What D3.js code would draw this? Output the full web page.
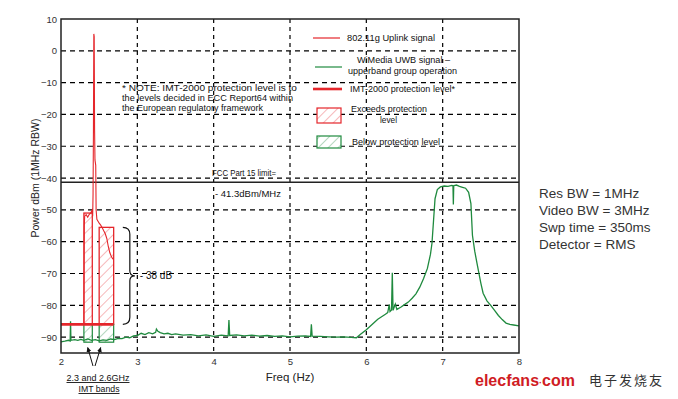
<!DOCTYPE html>
<html>
<head>
<meta charset="utf-8">
<script src="https://cdn.jsdelivr.net/npm/d3@7"></script>
<style>
body { margin: 0; background: #fff; }
text { font-family: "Liberation Sans", Arial, sans-serif; }
</style>
</head>
<body>
<script>
// ---- data ----
var freqTicks = [2, 3, 4, 5, 6, 7, 8];
var powerTicks = [10, 0, -10, -20, -30, -40, -50, -60, -70, -80, -90];

// 802.11g uplink signal
var uplinkFreq  = [2.30, 2.305, 2.31, 2.33, 2.35, 2.37, 2.39, 2.405, 2.415, 2.42, 2.425, 2.43, 2.435, 2.44, 2.445, 2.455, 2.46, 2.47, 2.50, 2.52, 2.54, 2.56, 2.58, 2.60, 2.62, 2.64, 2.66, 2.68];
var uplinkPower = [-86, -55, -52, -51.5, -52.3, -51.4, -51, -50.2, -52, -45, -25, 5.3, 4.5, -25, -34.3, -36, -50, -53, -54.2, -54.8, -55.6, -56.6, -57.5, -59, -61.6, -63.5, -64.7, -65.5];

// WiMedia UWB signal (upper band group)
var uwbFreq  = [2.00, 2.05, 2.10, 2.12, 2.125, 2.13, 2.18, 2.22, 2.26, 2.30, 2.35, 2.40, 2.45, 2.50, 2.55, 2.60, 2.65, 2.70, 2.75, 2.80, 2.85, 2.90, 2.95, 3.00, 3.05, 3.10, 3.15, 3.20, 3.24, 3.25, 3.27, 3.30, 3.35, 3.40, 3.45, 3.50, 3.60, 3.70, 3.80, 3.90, 4.00, 4.10, 4.19, 4.20, 4.21, 4.30, 4.40, 4.50, 4.60, 4.70, 4.80, 4.90, 5.00, 5.10, 5.20, 5.27, 5.28, 5.29, 5.40, 5.50, 5.60, 5.70, 5.80, 5.87, 5.92, 6.00, 6.05, 6.10, 6.15, 6.20, 6.25, 6.28, 6.30, 6.31, 6.33, 6.34, 6.35, 6.38, 6.40, 6.45, 6.50, 6.55, 6.60, 6.65, 6.70, 6.75, 6.80, 6.84, 6.86, 6.88, 6.90, 6.93, 6.97, 7.02, 7.07, 7.12, 7.135, 7.14, 7.145, 7.18, 7.22, 7.26, 7.30, 7.34, 7.37, 7.39, 7.42, 7.45, 7.50, 7.53, 7.58, 7.63, 7.68, 7.73, 7.78, 7.83, 7.88, 7.93, 8.00];
var uwbPower = [-91.5, -91.3, -91.0, -91.2, -85, -91.0, -90.8, -91.0, -90.7, -91.0, -90.6, -91.0, -90.8, -91.2, -90.9, -91.0, -90.6, -90.8, -90.4, -90.5, -90.0, -90.2, -89.6, -89.5, -88.8, -89.2, -88.6, -89.0, -88.5, -87.5, -88.2, -88.6, -89.0, -88.8, -89.2, -89.0, -89.4, -89.2, -89.6, -89.3, -89.8, -89.4, -89.6, -84.6, -89.5, -89.3, -89.6, -89.4, -89.7, -89.5, -89.8, -89.6, -89.9, -89.7, -89.6, -89.8, -86.0, -89.7, -89.8, -89.9, -90.0, -89.9, -90.1, -90.2, -89.2, -87.7, -86.6, -85.5, -84.4, -83.6, -82.8, -82.3, -79.8, -82.0, -81.5, -69.8, -81.6, -79.6, -81.3, -80.6, -79.8, -79.0, -77.8, -76.4, -74.3, -71.6, -68.4, -64.0, -60.5, -53.5, -46.5, -43.6, -42.8, -42.5, -42.6, -42.3, -42.4, -48.3, -42.4, -42.2, -42.6, -42.9, -43.2, -44.5, -48.0, -58.0, -63.0, -66.8, -73.0, -76.2, -78.6, -80.0, -81.6, -83.2, -84.5, -85.6, -86.0, -86.2, -86.5];

// IMT bands (exceeds / below protection level)
var bandStart = [2.30, 2.50];
var bandEnd   = [2.41, 2.69];
var bandTop   = [-51, -55.5];
var bandFloor = -91.6;
var protectionLevel = -86;
var protectionEnd = 2.69;
var fccLimit = -41.3;

var noteLines = ["* NOTE: IMT-2000 protection level is to", "the levels decided in ECC Report64 within", "the European regulatory framework"];
var settings = ["Res BW = 1MHz", "Video BW =  3MHz", "Swp time = 350ms", "Detector = RMS"];

// ---- layout ----
var margin = {top: 19, right: 159, bottom: 46, left: 61},
    width = 678 - margin.left - margin.right,
    height = 399 - margin.top - margin.bottom;

var red = "#e5262b", green = "#1f8a3e";

var x = d3.scaleLinear().domain([2, 8]).range([0, width]);
var y = d3.scaleLinear().domain([-95, 10]).range([height, 0]);

var root = d3.select("body").append("svg")
    .attr("width", 678)
    .attr("height", 399);

var defs = root.append("defs");
function hatch(id, color) {
  var p = defs.append("pattern")
      .attr("id", id)
      .attr("patternUnits", "userSpaceOnUse")
      .attr("width", 7).attr("height", 7)
      .attr("patternTransform", "rotate(45)");
  p.append("rect").attr("width", 7).attr("height", 7).attr("fill", "#fff");
  p.append("line").attr("x1", 0).attr("y1", 0).attr("x2", 0).attr("y2", 7)
      .attr("stroke", color).attr("stroke-width", 1.2).attr("opacity", 0.55);
}
hatch("hatchRed", red);
hatch("hatchGreen", green);

var svg = root.append("g")
    .attr("transform", "translate(" + margin.left + "," + margin.top + ")");

// grid
svg.selectAll(".vgrid")
  .data(freqTicks.slice(1, -1))
  .enter().append("line")
    .attr("x1", function(d) { return x(d); }).attr("x2", function(d) { return x(d); })
    .attr("y1", 0).attr("y2", height)
    .attr("stroke", "#000").attr("stroke-width", 1.2).attr("stroke-dasharray", "4,4");

svg.selectAll(".hgrid")
  .data(powerTicks.slice(1))
  .enter().append("line")
    .attr("x1", 0).attr("x2", width)
    .attr("y1", function(d) { return y(d); }).attr("y2", function(d) { return y(d); })
    .attr("stroke", "#000").attr("stroke-width", 1.2).attr("stroke-dasharray", "5,4");

// axes
var xAxis = d3.axisBottom(x).tickValues(freqTicks).tickFormat(d3.format("d")).tickSize(0).tickPadding(5);
var yAxis = d3.axisLeft(y).tickValues(powerTicks).tickSize(0).tickPadding(4);

svg.append("g")
    .attr("transform", "translate(0," + height + ")")
    .call(xAxis)
    .call(function(g) { g.select(".domain").remove(); })
    .selectAll("text").style("font-size", "9.5px").attr("fill", "#333")
    .style("font-family", "'Liberation Sans', Arial, sans-serif");

svg.append("g")
    .call(yAxis)
    .call(function(g) { g.select(".domain").remove(); })
    .selectAll("text").style("font-size", "9.5px").attr("fill", "#333")
    .style("font-family", "'Liberation Sans', Arial, sans-serif");

// bands above protection level
svg.selectAll(".exceed")
  .data(bandStart)
  .enter().append("rect")
    .attr("x", function(d) { return x(d); })
    .attr("width", function(d, i) { return x(bandEnd[i]) - x(d); })
    .attr("y", function(d, i) { return y(bandTop[i]); })
    .attr("height", function(d, i) { return y(protectionLevel) - y(bandTop[i]); })
    .attr("fill", "url(#hatchRed)")
    .attr("stroke", red).attr("stroke-width", 1.3);

// bands below protection level
svg.selectAll(".below")
  .data(bandStart)
  .enter().append("rect")
    .attr("x", function(d) { return x(d); })
    .attr("width", function(d, i) { return x(bandEnd[i]) - x(d); })
    .attr("y", y(protectionLevel))
    .attr("height", y(bandFloor) - y(protectionLevel))
    .attr("fill", "url(#hatchGreen)")
    .attr("stroke", green).attr("stroke-width", 1.2);

// FCC limit line
svg.append("line")
    .attr("x1", 0).attr("x2", width)
    .attr("y1", y(fccLimit)).attr("y2", y(fccLimit))
    .attr("stroke", "#222").attr("stroke-width", 1.6);

var line = d3.line()
    .x(function(d) { return x(d[0]); })
    .y(function(d) { return y(d[1]); });

// UWB signal
svg.append("path")
    .datum(d3.zip(uwbFreq, uwbPower))
    .attr("d", line)
    .attr("fill", "none").attr("stroke", green).attr("stroke-width", 1.3);

// uplink signal
svg.append("path")
    .datum(d3.zip(uplinkFreq, uplinkPower))
    .attr("d", line)
    .attr("fill", "none").attr("stroke", red).attr("stroke-width", 1.1);

// protection level
svg.append("line")
    .attr("x1", x(2)).attr("x2", x(protectionEnd))
    .attr("y1", y(protectionLevel)).attr("y2", y(protectionLevel))
    .attr("stroke", red).attr("stroke-width", 2.6);

// plot frame
svg.append("rect")
    .attr("width", width).attr("height", height)
    .attr("fill", "none").attr("stroke", "#222").attr("stroke-width", 1.5);

// brace showing the margin
var bx = x(2.81), by0 = y(bandTop[1]), by1 = y(protectionLevel), bym = (by0 + by1) / 2;
svg.append("path")
    .attr("d", "M" + bx + "," + by0 + " q7,0 7,7 L" + (bx + 7) + "," + (bym - 5) +
               " q0,5 5,5 q-5,0 -5,5 L" + (bx + 7) + "," + (by1 - 7) + " q0,7 -7,7")
    .attr("fill", "none").attr("stroke", "#111").attr("stroke-width", 1.2);
svg.append("text")
    .attr("x", bx + 17).attr("y", bym + 3.5)
    .style("font-size", "10px").attr("fill", "#111")
    .text("- 38 dB");

// FCC limit labels
svg.append("text")
    .attr("x", 151).attr("y", 157)
    .attr("textLength", 64).attr("lengthAdjust", "spacingAndGlyphs")
    .style("font-size", "9px").attr("fill", "#111")
    .text("FCC Part 15 limit=");
svg.append("text")
    .attr("x", 154).attr("y", 178)
    .attr("textLength", 66).attr("lengthAdjust", "spacingAndGlyphs")
    .style("font-size", "9px").attr("fill", "#111")
    .text("- 41.3dBm/MHz");

// note
var noteWidths = [175, 171, 141];
svg.selectAll(".note")
  .data(noteLines)
  .enter().append("text")
    .attr("x", 61).attr("y", function(d, i) { return 72 + i * 10; })
    .attr("textLength", function(d, i) { return noteWidths[i]; })
    .attr("lengthAdjust", "spacingAndGlyphs")
    .style("font-size", "9px").attr("fill", "#111")
    .text(function(d) { return d; });

// legend
var lg = root.append("g");
lg.append("line").attr("x1", 313).attr("x2", 340).attr("y1", 38).attr("y2", 38)
    .attr("stroke", red).attr("stroke-width", 1.2);
lg.append("line").attr("x1", 315).attr("x2", 342).attr("y1", 67).attr("y2", 67)
    .attr("stroke", green).attr("stroke-width", 1.2);
lg.append("line").attr("x1", 313).attr("x2", 342).attr("y1", 89).attr("y2", 89)
    .attr("stroke", red).attr("stroke-width", 2.6);
lg.append("rect").attr("x", 317).attr("y", 108).attr("width", 24).attr("height", 15)
    .attr("fill", "url(#hatchRed)").attr("stroke", red).attr("stroke-width", 1.2);
lg.append("rect").attr("x", 317).attr("y", 136).attr("width", 24).attr("height", 12)
    .attr("fill", "url(#hatchGreen)").attr("stroke", green).attr("stroke-width", 1.2);

var legendText = [
  ["802.11g Uplink signal", 347, 41, 88],
  ["WiMedia UWB signal \u2013", 357, 63, 93],
  ["upperband group operation", 348, 74, 109],
  ["IMT-2000 protection level*", 350, 92, 105],
  ["Exceeds protection", 351, 112, 76],
  ["level", 380, 123, 17],
  ["Below protection level", 352, 145, 88]
];
lg.selectAll(".lt")
  .data(legendText)
  .enter().append("text")
    .attr("x", function(d) { return d[1]; }).attr("y", function(d) { return d[2]; })
    .attr("textLength", function(d) { return d[3]; })
    .attr("lengthAdjust", "spacingAndGlyphs")
    .style("font-size", "9px").attr("fill", "#111")
    .text(function(d) { return d[0]; });

// axis titles
root.append("text")
    .attr("transform", "translate(39," + 178 + ") rotate(-90)")
    .attr("text-anchor", "middle")
    .style("font-size", "10.5px").attr("fill", "#222")
    .text("Power dBm (1MHz RBW)");
root.append("text")
    .attr("x", 290).attr("y", 381)
    .attr("text-anchor", "middle")
    .style("font-size", "11.5px").attr("fill", "#222")
    .text("Freq (Hz)");

// IMT band annotation
root.append("defs").append("marker")
    .attr("id", "arr").attr("viewBox", "0 0 10 10")
    .attr("refX", 9).attr("refY", 5)
    .attr("markerWidth", 5).attr("markerHeight", 5)
    .attr("orient", "auto")
  .append("path").attr("d", "M0,0 L10,5 L0,10 z").attr("fill", "#111");
[[2.35, 93], [2.52, 95]].forEach(function(a) {
  root.append("line")
      .attr("x1", a[1]).attr("y1", 366)
      .attr("x2", margin.left + x(a[0])).attr("y2", margin.top + y(-93.3))
      .attr("stroke", "#111").attr("stroke-width", 1)
      .attr("marker-end", "url(#arr)");
});
root.append("text")
    .attr("x", 98).attr("y", 381).attr("text-anchor", "middle")
    .attr("textLength", 63).attr("lengthAdjust", "spacingAndGlyphs")
    .style("font-size", "9px").style("text-decoration", "underline").attr("fill", "#111")
    .text("2.3 and 2.6GHz");
root.append("text")
    .attr("x", 99).attr("y", 392).attr("text-anchor", "middle")
    .attr("textLength", 41).attr("lengthAdjust", "spacingAndGlyphs")
    .style("font-size", "9px").style("text-decoration", "underline").attr("fill", "#111")
    .text("IMT bands");

// analyser settings
root.selectAll(".set")
  .data(settings)
  .enter().append("text")
    .attr("x", 539).attr("y", function(d, i) { return 198 + i * 17; })
    .style("font-size", "13.5px").attr("fill", "#333")
    .text(function(d) { return d; });

// watermark
var wm = root.append("text")
    .attr("x", 475).attr("y", 386)
    .style("font-size", "16px").style("font-weight", "bold").attr("fill", "#d01c24");
wm.append("tspan").text("elecfans");
wm.append("tspan").style("font-size", "9px").text("\u00b7");
wm.append("tspan").text("com");
root.append("text")
    .attr("x", 589).attr("y", 385)
    .style("font-size", "13px").style("letter-spacing", "2px")
    .style("font-family", "'Noto Sans CJK SC', sans-serif")
    .attr("fill", "#333")
    .text("电子发烧友");
</script>
</body>
</html>
